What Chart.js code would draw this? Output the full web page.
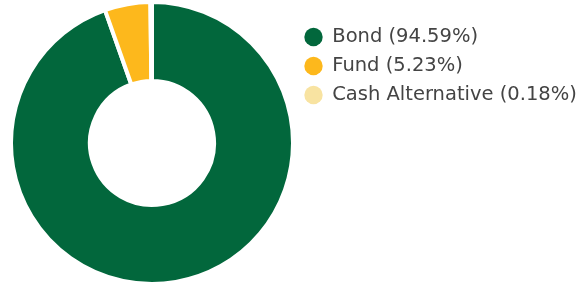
<!DOCTYPE html>
<html>
<head>
<meta charset="utf-8">
<script src="https://cdn.jsdelivr.net/npm/chart.js@4"></script>
<style>
  html, body { margin: 0; padding: 0; background: #fff; }
  #wrap { width: 581px; height: 286px; }
</style>
</head>
<body>
<div id="wrap"><canvas id="allocChart" width="581" height="286"></canvas></div>
<script>
const categories = ['Bond', 'Fund', 'Cash Alternative'];
const weights = [94.59, 5.23, 0.18];
const sliceColors = ['#02673c', '#fdb81c', '#f8e3a1'];

const ctx = document.getElementById('allocChart').getContext('2d');

new Chart(ctx, {
  type: 'doughnut',
  data: {
    labels: categories.map((c, i) => c + ' (' + weights[i].toFixed(2) + '%)'),
    datasets: [{
      data: weights,
      backgroundColor: sliceColors,
      borderColor: '#ffffff',
      borderWidth: 4,
      hoverOffset: 0
    }]
  },
  options: {
    responsive: false,
    animation: false,
    cutout: '44%',
    layout: { padding: { left: 9 } },
    plugins: {
      tooltip: { enabled: false },
      legend: {
        position: 'right',
        align: 'start',
        // empty title just pushes the items down a bit
        title: {
          display: true,
          text: ' ',
          font: { size: 12 },
          padding: { top: 0, bottom: 3.3 }
        },
        labels: {
          usePointStyle: true,
          pointStyle: 'circle',
          boxWidth: 18,
          boxHeight: 13,
          padding: 9.5,
          color: '#444',
          font: { family: 'DejaVu Sans', size: 19.5 },
          generateLabels: (chart) => Chart.overrides.doughnut.plugins.legend.labels
            .generateLabels(chart).map(item => ({ ...item, lineWidth: 0 }))
        }
      }
    }
  }
});
</script>
</body>
</html>
